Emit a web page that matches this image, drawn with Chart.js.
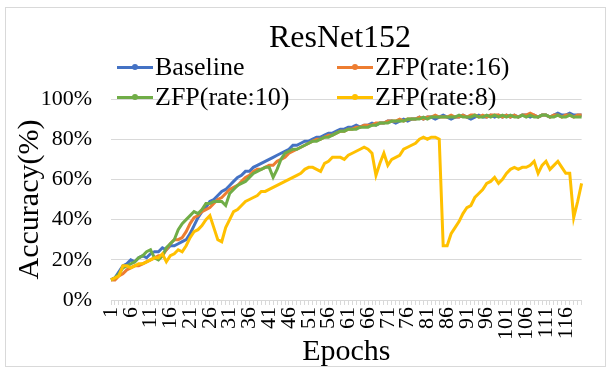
<!DOCTYPE html>
<html>
<head>
<meta charset="utf-8">
<script src="https://cdn.jsdelivr.net/npm/chart.js@4/dist/chart.umd.min.js"></script>
<style>
  html, body { margin: 0; padding: 0; background: #fff; }
  #frame { position: absolute; left: 5px; top: 7px; width: 599px; height: 358px; border: 1px solid #d9d9d9; }
  #myChart { position: absolute; left: 0; top: 0; }
  #title { position: absolute; left: 240px; width: 200px; top: 16px; text-align: center;
           font-family: "Liberation Serif", serif; font-size: 32px; line-height: 40px; color: #000; }
  .item { position: absolute; height: 30px; line-height: 30px; white-space: nowrap;
          font-family: "Liberation Serif", serif; font-size: 26px; color: #000; }
  .swatch { position: absolute; left: 0; top: 14px; width: 36px; height: 3px; }
  .dot { position: absolute; left: 15px; top: 12px; width: 6px; height: 6px; border-radius: 3px; }
  .label { position: absolute; left: 38px; top: 0; }
</style>
</head>
<body>
<div id="frame"></div>
<canvas id="myChart" width="610" height="370"></canvas>
<div id="title">ResNet152</div>
<div id="legend"></div>
<script>
// Data (accuracy in %)
const epochs = Array.from({ length: 120 }, (_, i) => String(i + 1));
const seriesNames = ['Baseline', 'ZFP(rate:16)', 'ZFP(rate:10)', 'ZFP(rate:8)'];
const seriesColors = ['#4472C4', '#ED7D31', '#70AD47', '#FFC000'];
const yTicks = [0, 20, 40, 60, 80, 100];

const baseline = [10,11,14,17,18,20,19,21,22,21, 23,24,24,26,25,27,27,28,29,30,
  33,37,41,44,46,49,50,52,54,55, 57,59,61,62,64,64,66,67,68,69,
  70,71,72,73,74,75,77,77,78,79, 79,80,81,81,82,83,83,84,85,85,
  86,86,87,86,87,87,88,87,88,88, 89,89,88,89,90,89,90,90,91,90,
  91,91,90,91,92,91,90,91,91,92, 91,90,91,92,91,91,92,91,92,91,
  92,91,92,91,92,92,91,92,91,92, 92,91,92,93,92,92,93,92,92,92];

const rate16 = [10,10,12,13,15,16,17,17,18,19, 20,21,22,22,25,28,30,30,31,34,
  38,41,42,44,45,46,48,50,51,53, 55,56,57,59,61,62,64,65,65,66,
  67,67,69,70,71,73,74,75,76,77, 78,79,80,80,81,82,82,83,84,84,
  85,85,86,86,87,87,87,88,88,88, 89,89,89,90,89,90,90,90,91,90,
  91,91,92,91,91,91,92,91,91,92, 91,92,92,91,92,91,92,92,92,91,
  92,91,92,91,92,92,93,92,91,92, 92,91,92,92,91,92,92,91,92,92];

const rate10 = [10,11,13,16,17,18,19,21,22,24, 25,21,20,22,26,28,30,35,38,40,
  42,44,43,45,48,48,49,49,49,47, 53,55,57,58,59,61,63,64,65,66,
  66,61,65,70,73,74,75,75,76,77, 78,79,79,80,81,81,82,83,84,84,
  85,85,85,86,86,86,87,87,88,88, 88,89,89,89,89,90,90,90,90,91,
  90,91,91,91,91,91,91,91,92,91, 91,91,92,91,91,92,91,92,91,92,
  91,92,91,91,92,91,92,91,91,92, 92,91,91,92,91,91,92,91,91,91];

const rate8 = [10,11,12,17,17,16,17,18,18,19, 20,21,21,23,19,22,23,25,24,27,
  31,34,35,37,40,42,36,30,29,36, 40,44,45,47,49,50,51,52,54,54,
  55,56,57,58,59,60,61,62,63,65, 66,66,65,64,68,69,71,71,71,70,
  72,73,74,75,76,75,73,62,68,73, 67,70,71,72,75,76,77,78,80,81,
  80,81,81,80,27,27,33,36,39,43, 46,47,51,53,55,58,59,61,58,60,
  63,65,66,65,66,66,67,69,63,67, 69,65,67,69,66,63,63,41,49,58];

const seriesData = [baseline, rate16, rate10, rate8];
const fontFamily = '"Liberation Serif", "Times New Roman", serif';

const datasets = seriesNames.map((name, i) => ({
  label: name,
  data: seriesData[i],
  borderColor: seriesColors[i],
  backgroundColor: seriesColors[i],
  borderWidth: 3,
  pointRadius: 0,
  tension: 0,
  order: seriesNames.length - i   // later series drawn on top, like Excel
}));

const chart = new Chart(document.getElementById('myChart'), {
  type: 'line',
  data: { labels: epochs, datasets: datasets },
  options: {
    responsive: false,
    animation: false,
    layout: { padding: { top: 99, right: 7, bottom: 0, left: 0 } },
    plugins: {
      legend: { display: false },
      tooltip: { enabled: false }
    },
    scales: {
      x: {
        offset: false,
        grid: { drawOnChartArea: false, color: '#d9d9d9', tickLength: 5 },
        border: { color: '#d9d9d9' },
        ticks: {
          autoSkip: false, minRotation: 90, maxRotation: 90, padding: 2,
          color: '#000', font: { family: fontFamily, size: 22 },
          callback: function (v, i) { return i % 5 === 0 ? this.getLabelForValue(v) : ''; }
        },
        title: { display: true, text: 'Epochs', color: '#000', padding: 0,
                 font: { family: fontFamily, size: 30 } },
        afterFit: function (s) { s.height = 70; }
      },
      y: {
        min: 0, max: 100,
        afterBuildTicks: function (s) { s.ticks = yTicks.map(v => ({ value: v })); },
        grid: { color: '#d9d9d9', drawTicks: false },
        border: { display: false },
        ticks: { padding: 19, color: '#000', font: { family: fontFamily, size: 22 },
                 callback: v => v + '%' },
        title: { display: true, text: 'Accuracy(%)', color: '#000', padding: { top: 12 },
                 font: { family: fontFamily, size: 30 } },
        afterFit: function (s) { s.width = 111; }
      }
    }
  }
});

// Legend laid out in two columns like the original
const legendPos = [[117, 52], [337, 52], [117, 82], [337, 82]];
const legendBox = document.getElementById('legend');
chart.data.datasets.forEach((ds, i) => {
  const item = document.createElement('div');
  item.className = 'item';
  item.style.left = legendPos[i][0] + 'px';
  item.style.top = legendPos[i][1] + 'px';
  item.innerHTML = '<div class="swatch" style="background:' + ds.borderColor + '"></div>' +
    '<div class="dot" style="background:' + ds.borderColor + '"></div>' +
    '<span class="label">' + ds.label + '</span>';
  legendBox.appendChild(item);
});
</script>
</body>
</html>
